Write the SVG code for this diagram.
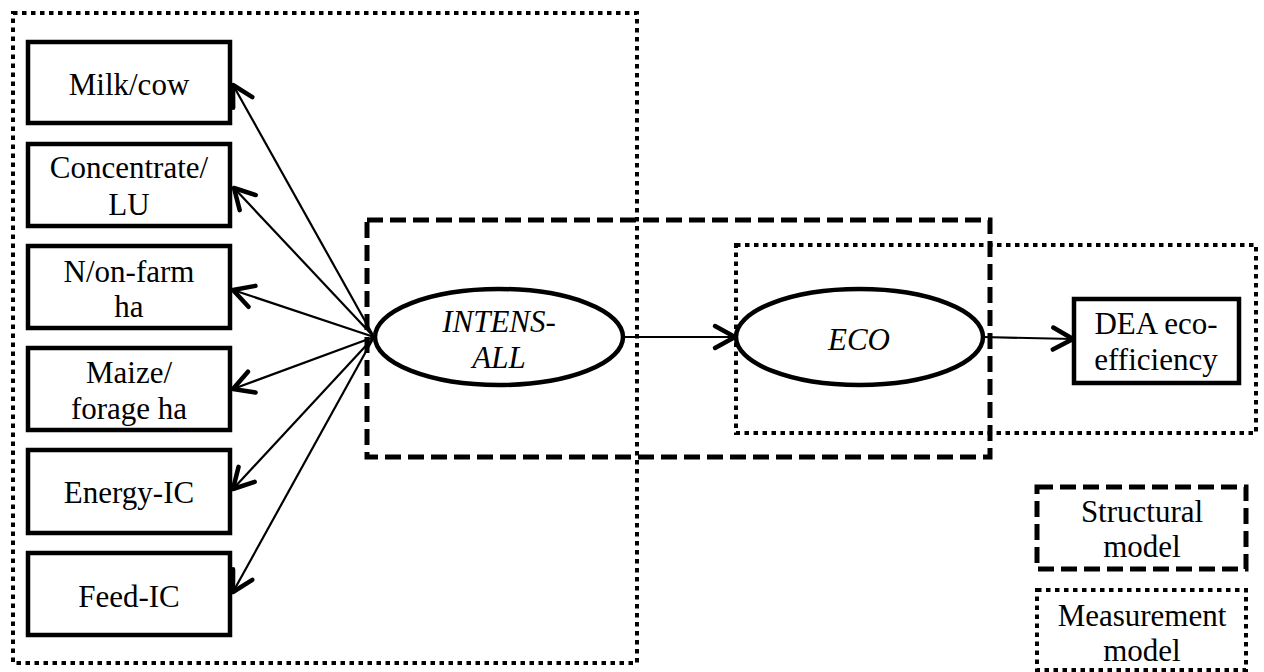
<svg xmlns="http://www.w3.org/2000/svg" width="1264" height="672" viewBox="0 0 1264 672">
<style>
text{font-size:31px;fill:#000;text-anchor:middle}
.it{font-style:italic}
.box{fill:#fff;stroke:#000;stroke-width:4.5}
.ell{fill:#fff;stroke:#000;stroke-width:4.5}
.dot{fill:none;stroke:#000;stroke-width:4;stroke-dasharray:4.5 4.5}
.dash{fill:none;stroke:#000;stroke-width:5;stroke-dasharray:16 7}
.con{fill:none;stroke:#000;stroke-width:2.2}
</style>
<defs>
<marker id="arr" markerUnits="userSpaceOnUse" markerWidth="40" markerHeight="40" viewBox="-20 -20 40 40" refX="0" refY="0" orient="auto" overflow="visible">
<path d="M -20 -11 L 0 0 L -20 11" fill="none" stroke="#000" stroke-width="4.5" stroke-linecap="round" stroke-linejoin="round"/>
</marker>
</defs>
<rect width="1264" height="672" fill="#fff"/>
<g id="frames">
<rect class="dot" x="13" y="13" width="624" height="650"/>
<rect class="dash" x="367" y="220" width="623" height="237"/>
<rect class="dot" x="736" y="245" width="520" height="188"/>
</g>
<g id="connectors">
<line class="con" x1="374" y1="337" x2="233" y2="85" marker-end="url(#arr)"/>
<line class="con" x1="374" y1="337" x2="234" y2="188" marker-end="url(#arr)"/>
<line class="con" x1="374" y1="337" x2="233" y2="290" marker-end="url(#arr)"/>
<line class="con" x1="374" y1="337" x2="233" y2="389" marker-end="url(#arr)"/>
<line class="con" x1="374" y1="337" x2="233" y2="489" marker-end="url(#arr)"/>
<line class="con" x1="374" y1="337" x2="233" y2="592" marker-end="url(#arr)"/>
<line class="con" x1="623" y1="337" x2="735" y2="337" marker-end="url(#arr)"/>
<line class="con" x1="983" y1="337" x2="1073" y2="339" marker-end="url(#arr)"/>
</g>
<g id="milk"><rect class="box" x="28" y="42" width="202" height="81"/><text x="129" y="95" style="font-family:'Liberation Serif',serif">Milk/cow</text></g>
<g id="concentrate"><rect class="box" x="28" y="144" width="202" height="82"/><text x="129" y="178" style="font-family:'Liberation Serif',serif">Concentrate/</text><text x="129" y="215" style="font-family:'Liberation Serif',serif">LU</text></g>
<g id="nfarm"><rect class="box" x="28" y="246" width="202" height="82"/><text x="129" y="282" style="font-family:'Liberation Serif',serif">N/on-farm</text><text x="129" y="317" style="font-family:'Liberation Serif',serif">ha</text></g>
<g id="maize"><rect class="box" x="28" y="348" width="202" height="82"/><text x="129" y="383" style="font-family:'Liberation Serif',serif">Maize/</text><text x="129" y="419" style="font-family:'Liberation Serif',serif">forage ha</text></g>
<g id="energy"><rect class="box" x="28" y="450" width="202" height="83"/><text x="129" y="503" style="font-family:'Liberation Serif',serif">Energy-IC</text></g>
<g id="feed"><rect class="box" x="28" y="553" width="202" height="82"/><text x="129" y="607" style="font-family:'Liberation Serif',serif">Feed-IC</text></g>
<g id="intens"><ellipse class="ell" cx="499" cy="337" rx="124" ry="48"/><text class="it" x="499" y="332" style="font-family:'Liberation Serif',serif">INTENS-</text><text class="it" x="499" y="368" style="font-family:'Liberation Serif',serif">ALL</text></g>
<g id="eco"><ellipse class="ell" cx="859.5" cy="337" rx="123.5" ry="48"/><text class="it" x="859" y="350" style="font-family:'Liberation Serif',serif">ECO</text></g>
<g id="dea"><rect class="box" x="1074" y="299" width="165" height="84"/><text x="1156" y="334" style="font-family:'Liberation Serif',serif">DEA eco-</text><text x="1156" y="370" style="font-family:'Liberation Serif',serif">efficiency</text></g>
<g id="legend-structural"><rect class="dash" x="1037" y="487" width="209" height="82"/><text x="1142" y="522" style="font-family:'Liberation Serif',serif">Structural</text><text x="1142" y="557" style="font-family:'Liberation Serif',serif">model</text></g>
<g id="legend-measurement"><rect class="dot" x="1037" y="590" width="209" height="80"/><text x="1142" y="626" style="font-family:'Liberation Serif',serif">Measurement</text><text x="1142" y="661" style="font-family:'Liberation Serif',serif">model</text></g>
</svg>
